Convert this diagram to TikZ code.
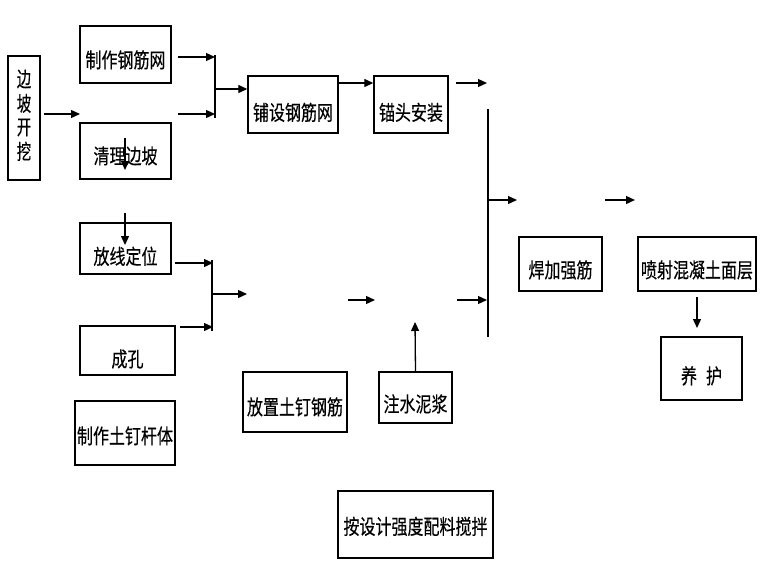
\documentclass[tikz,border=0pt]{standalone}
\usepackage{fontspec}
\newfontfamily\cjk[FakeBold=0.35]{Noto Sans CJK SC}
\usetikzlibrary{arrows.meta}
\newcommand{\lowtx}[2]{\raisebox{-\dimexpr#1pt+7.8pt\relax}[4pt][4pt]{\scalebox{1}[1.3]{#2}}}
\begin{document}
\begin{tikzpicture}[x=1pt,y=-1pt,
  box/.style={draw=black, line width=1.4pt, inner sep=0pt, font=\cjk\fontsize{16}{18}\selectfont, text=black},
  arr/.style={line width=1.3pt, -{Triangle[length=9pt,width=8pt]}},
  ln/.style={line width=1.3pt}]
\useasboundingbox[fill=white] (0,0) rectangle (760,570);

% boxes
\node[box, minimum width=32pt, minimum height=124pt] (bpkw) at (24,118)
  {\scalebox{0.9}[1.3]{\begin{tabular}{@{}c@{}}边\\坡\\开\\挖\end{tabular}}};
\node[box, minimum width=91pt, minimum height=57pt] (zwgj) at (125.5,54.5) {\lowtx{5.5}{制作钢筋网}};
\node[box, minimum width=91pt, minimum height=56pt] (qlbp) at (125.5,151) {\lowtx{5}{清理边坡}};
\node[box, minimum width=91pt, minimum height=51pt] (fxdw) at (125.5,248.5) {\lowtx{8}{放线定位}};
\node[box, minimum width=95pt, minimum height=49pt] (ck) at (127.5,350.5) {\lowtx{8.5}{成孔}};
\node[box, minimum width=100pt, minimum height=64pt] (zztg) at (125,433) {\lowtx{3}{制作土钉杆体}};
\node[box, minimum width=90pt, minimum height=57pt] (pszw) at (293,104.5) {\lowtx{8}{铺设钢筋网}};
\node[box, minimum width=74pt, minimum height=57pt] (mtaz) at (411,104.5) {\lowtx{8}{锚头安装}};
\node[box, minimum width=104pt, minimum height=60pt] (fzgj) at (295,402) {\lowtx{5}{放置土钉钢筋}};
\node[box, minimum width=73pt, minimum height=51pt] (zsnj) at (415.5,397.5) {\lowtx{6.5}{注水泥浆}};
\node[box, minimum width=83pt, minimum height=54pt] (hjqj) at (560.5,264) {\lowtx{6}{焊加强筋}};
\node[box, minimum width=118pt, minimum height=54pt] (pshn) at (697,264) {\lowtx{6}{喷射混凝土面层}};
\node[box, minimum width=81pt, minimum height=63pt] (yh) at (701.5,368.5) {\lowtx{7.5}{养\hspace{9pt}护}};
\node[box, minimum width=155pt, minimum height=67pt] (asj) at (415.5,524.5) {\lowtx{2}{按设计强度配料搅拌}};

% free coordinates
\coordinate (a1s) at (44,114);   \coordinate (a1e) at (80,114);
\coordinate (a2s) at (178,57);   \coordinate (a2e) at (215,57);
\coordinate (a3s) at (178,114);  \coordinate (a3e) at (215,114);
\coordinate (j1t) at (215,55);   \coordinate (j1b) at (215,118);
\coordinate (j1m) at (215,89);
\coordinate (d1s) at (125,138);  \coordinate (d1e) at (125,170);
\coordinate (d2s) at (125,213);  \coordinate (d2e) at (125,245);
\coordinate (b1s) at (175,263);  \coordinate (b1e) at (213,263);
\coordinate (b2s) at (180,327);  \coordinate (b2e) at (213,327);
\coordinate (j2t) at (212,260);  \coordinate (j2b) at (212,331);
\coordinate (j2m) at (212,294);  \coordinate (j2e) at (247,294);
\coordinate (c1s) at (456,83);   \coordinate (c1e) at (487,83);
\coordinate (j3t) at (488,109);  \coordinate (j3b) at (488,337);
\coordinate (j3m) at (488,200);  \coordinate (j3e) at (517,200);
\coordinate (c2s) at (605,200);  \coordinate (c2e) at (635,200);
\coordinate (c3s) at (348,300);  \coordinate (c3e) at (375,300);
\coordinate (c4s) at (457,300);  \coordinate (c4e) at (487,300);
\coordinate (u1e) at (415,322);
\coordinate (d3s) at (697,297);  \coordinate (d3e) at (697,328);

% connectors
\draw[arr] (a1s) -- (a1e);
\draw[arr] (a2s) -- (a2e);
\draw[arr] (a3s) -- (a3e);
\draw[ln] (j1t) -- (j1b);
\draw[arr] (j1m) -- (pszw.west |- j1m);
\draw[arr] (d1s) -- (d1e);
\draw[arr] (d2s) -- (d2e);
\draw[arr] (b1s) -- (b1e);
\draw[arr] (b2s) -- (b2e);
\draw[ln] (j2t) -- (j2b);
\draw[arr] (j2m) -- (j2e);
\draw[arr] (pszw.east |- 0,83) -- (mtaz.west |- 0,83);
\draw[arr] (c1s) -- (c1e);
\draw[ln] (j3t) -- (j3b);
\draw[arr] (j3m) -- (j3e);
\draw[arr] (c2s) -- (c2e);
\draw[arr] (c3s) -- (c3e);
\draw[arr] (c4s) -- (c4e);
\draw[arr] (zsnj.north) -- (u1e);
\draw[arr] (d3s) -- (d3e);
\end{tikzpicture}
\end{document}
